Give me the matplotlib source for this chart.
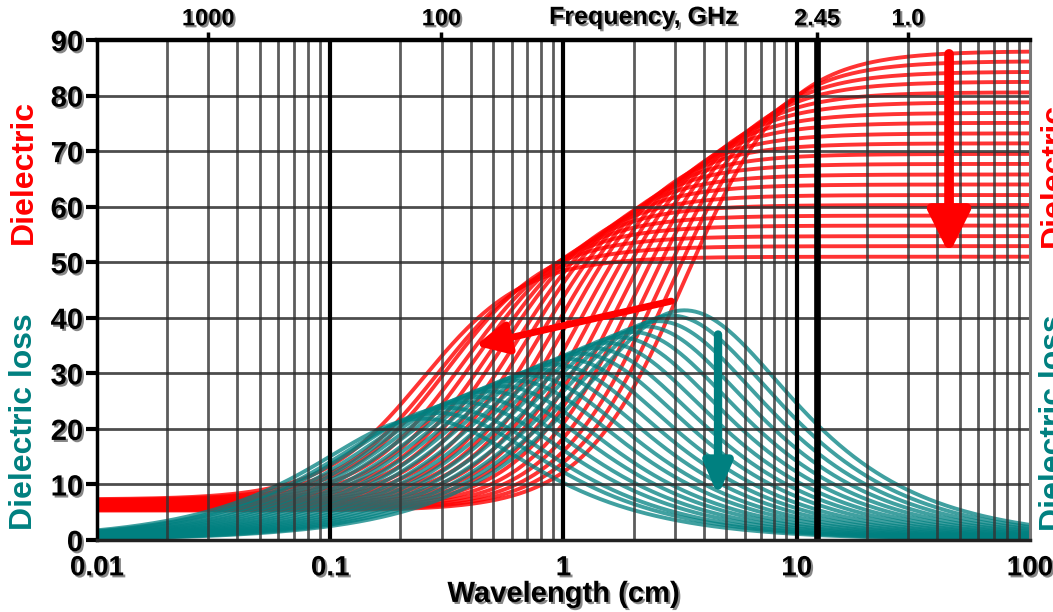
import numpy as np
import matplotlib
matplotlib.use("Agg")
import matplotlib.pyplot as plt
import matplotlib.patheffects as pe

OUT_PATH = "out.png"

# one curve per temperature, 0..100 C in 5 C steps
TEMPS_C = list(range(0, 101, 5))
# right-hand plateau of each red curve (static permittivity)
EPS_STATIC = [88.0, 86.2, 84.3, 82.5, 80.6, 78.8, 76.9, 75.1, 73.2, 71.4, 69.5,
              67.7, 65.8, 64.0, 62.1, 60.3, 58.4, 56.6, 54.7, 52.9, 51.0]
# left-hand floor of each red curve
EPS_INF = [5.3, 5.4, 5.5, 5.6, 5.7, 5.8, 5.9, 6.0, 6.1, 6.2, 6.3,
           6.4, 6.5, 6.6, 6.7, 6.8, 6.9, 7.0, 7.1, 7.2, 7.3]
# wavelength (cm) of each teal loss peak
PEAK_WAVELENGTH_CM = [3.30, 2.90, 2.55, 2.24, 1.97, 1.73, 1.52, 1.34, 1.18, 1.03, 0.91,
                      0.80, 0.70, 0.62, 0.54, 0.48, 0.42, 0.37, 0.32, 0.29, 0.25]

X_TICKS = [0.01, 0.1, 1, 10, 100]
X_TICK_LABELS = ["0.01", "0.1", "1", "10", "100"]
Y_TICKS = list(range(0, 91, 10))
FREQ_TICKS_GHZ = [1000, 100, 2.45, 1.0]
FREQ_TICK_LABELS = ["1000", "100", "2.45", "1.0"]
MICROWAVE_GHZ = 2.45
C_CM_GHZ = 29.98  # wavelength (cm) = C / frequency (GHz)

RED = "#ff0000"
TEAL = "#008080"

plt.rcParams["font.family"] = ["Liberation Sans", "DejaVu Sans"]
plt.rcParams["font.weight"] = "bold"
shadow = [pe.withSimplePatchShadow(offset=(1.5, -1.5), shadow_rgbFace="#7a7a7a", alpha=0.9)]

fig = plt.figure(figsize=(10.53, 6.12), dpi=100)
ax = fig.add_axes([0.0921, 0.1176, 0.886, 0.817])
ax.set_xscale("log")
ax.set_xlim(0.01, 100)
ax.set_ylim(0, 90)

# grid: minor log lines, decade lines, horizontal lines
for dec in [0.01, 0.1, 1, 10]:
    for k in range(2, 10):
        ax.axvline(dec * k, color="#333333", lw=2.0, alpha=0.8, zorder=3)
for x in [0.1, 1, 10]:
    ax.axvline(x, color="black", lw=3.0, zorder=4)
for y in Y_TICKS[1:]:
    ax.axhline(y, color="#2e2e2e", lw=2.0, alpha=0.85, zorder=3)
ax.axvline(C_CM_GHZ / MICROWAVE_GHZ, color="black", lw=4.8, zorder=5)

# Debye curves built from the parameters
lam = np.logspace(-2, 2, 500)
for es, ei, lc in zip(EPS_STATIC, EPS_INF, PEAK_WAVELENGTH_CM):
    wt = lc / lam
    real = ei + (es - ei) / (1 + wt ** 2)
    ax.plot(lam, real, color=RED, lw=2.8, alpha=0.8, zorder=2, solid_capstyle="butt")
for es, ei, lc in zip(EPS_STATIC, EPS_INF, PEAK_WAVELENGTH_CM):
    wt = lc / lam
    loss = (es - ei) * wt / (1 + wt ** 2)
    ax.plot(lam, loss, color=TEAL, lw=2.8, alpha=0.75, zorder=2.5, solid_capstyle="butt")

# arrows showing the direction of increasing temperature
ax.annotate("", xy=(45, 51.5), xytext=(45, 87.5), zorder=6,
            arrowprops=dict(arrowstyle="-|>,head_width=0.45,head_length=0.9",
                            color=RED, lw=7, mutation_scale=28, shrinkA=0, shrinkB=0))
ax.annotate("", xy=(0.42, 35), xytext=(2.9, 43), zorder=6,
            arrowprops=dict(arrowstyle="-|>,head_width=0.4,head_length=0.8",
                            color=RED, lw=5, mutation_scale=24, shrinkA=0, shrinkB=0))
ax.annotate("", xy=(4.6, 8), xytext=(4.6, 37), zorder=6,
            arrowprops=dict(arrowstyle="-|>,head_width=0.35,head_length=0.8",
                            color=TEAL, lw=6, mutation_scale=24, shrinkA=0, shrinkB=0))

# axes frame and ticks
for side, col, lw in [("left", "black", 2.5), ("bottom", "#222222", 2.5),
                      ("top", "black", 3.2), ("right", "#777777", 2.2)]:
    ax.spines[side].set_color(col)
    ax.spines[side].set_linewidth(lw)
    ax.spines[side].set_zorder(7)

ax.set_xticks(X_TICKS)
ax.set_xticklabels(X_TICK_LABELS)
ax.xaxis.set_minor_locator(matplotlib.ticker.NullLocator())
ax.set_yticks(Y_TICKS)
ax.set_yticklabels([str(v) for v in Y_TICKS])
ax.tick_params(axis="y", direction="out", length=8, width=3, pad=2, labelsize=21)
ax.tick_params(axis="x", direction="out", length=0, pad=11, labelsize=20)
for lbl in ax.get_xticklabels() + ax.get_yticklabels():
    lbl.set_fontweight("bold")
    lbl.set_path_effects(shadow)

ax.set_xlabel("Wavelength (cm)", fontsize=21, fontweight="bold", labelpad=-1,
              path_effects=shadow)

top = ax.twiny()
top.set_xscale("log")
top.set_xlim(ax.get_xlim())
top.set_xticks([C_CM_GHZ / f for f in FREQ_TICKS_GHZ])
top.set_xticklabels(FREQ_TICK_LABELS)
top.xaxis.set_minor_locator(matplotlib.ticker.NullLocator())
top.tick_params(axis="x", direction="out", length=6, width=2.5, pad=1, labelsize=17)
for lbl in top.get_xticklabels():
    lbl.set_fontweight("bold")
    lbl.set_path_effects(shadow)
for s in top.spines.values():
    s.set_visible(False)
top.text(2.2, 1.046, "Frequency, GHz", transform=top.get_xaxis_transform(),
         ha="center", va="center", fontsize=18, fontweight="bold", path_effects=shadow)

# rotated side labels, mirrored on the right edge (cut by the figure edge as in the source)
fig.text(24 / 1053, 1 - 172 / 612, "Dielectric", rotation=90, color=RED,
         fontsize=23, fontweight="bold", ha="center", va="center")
fig.text(24 / 1053, 1 - 422 / 612, "Dielectric loss", rotation=90, color=TEAL,
         fontsize=23, fontweight="bold", ha="center", va="center")
fig.text(1039 / 1053, 1 - 175 / 612, "Dielectric", rotation=90, color=RED,
         fontsize=23, fontweight="bold", ha="left", va="center")
fig.text(1039 / 1053, 1 - 423 / 612, "Dielectric loss", rotation=90, color=TEAL,
         fontsize=23, fontweight="bold", ha="left", va="center")

fig.savefig(OUT_PATH, dpi=100)
